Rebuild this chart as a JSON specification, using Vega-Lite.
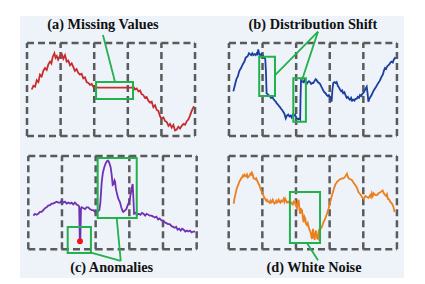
{
  "$schema": "https://vega.github.io/schema/vega-lite/v6.json",
  "background": "white",
  "padding": {"left": 20, "top": 16, "right": 21, "bottom": 6},
  "config": {
    "view": {"stroke": null, "fill": "#EEF3FA"},
    "concat": {"spacing": 0}
  },
  "datasets": {
    "frames": [
      {"t": 0, "t2": 20, "v": 100, "v2": 100}, {"t": 20, "t2": 40, "v": 100, "v2": 100},
      {"t": 40, "t2": 60, "v": 100, "v2": 100}, {"t": 60, "t2": 80, "v": 100, "v2": 100},
      {"t": 80, "t2": 100, "v": 100, "v2": 100},
      {"t": 0, "t2": 20, "v": 0, "v2": 0}, {"t": 20, "t2": 40, "v": 0, "v2": 0},
      {"t": 40, "t2": 60, "v": 0, "v2": 0}, {"t": 60, "t2": 80, "v": 0, "v2": 0},
      {"t": 80, "t2": 100, "v": 0, "v2": 0},
      {"t": 0, "t2": 0, "v": 0, "v2": 100}, {"t": 20, "t2": 20, "v": 0, "v2": 100},
      {"t": 40, "t2": 40, "v": 0, "v2": 100}, {"t": 60, "t2": 60, "v": 0, "v2": 100},
      {"t": 80, "t2": 80, "v": 0, "v2": 100}, {"t": 100, "t2": 100, "v": 0, "v2": 100}
    ],
    "boxes": [
      {"p": "a", "t": 41.1, "t2": 63.1, "v": 39.8, "v2": 58.1},
      {"p": "b", "t": 18.0, "t2": 27.4, "v": 43, "v2": 85.3},
      {"p": "b", "t": 38.3, "t2": 45.8, "v": 15.4, "v2": 62},
      {"p": "c", "t": 23.4, "t2": 37.2, "v": -3.9, "v2": 23.8},
      {"p": "c", "t": 41.2, "t2": 64.4, "v": 33.5, "v2": 97.9},
      {"p": "d", "t": 36.4, "t2": 54.3, "v": 6.8, "v2": 61.4}
    ],
    "links": [
      {"p": "a", "t": 45.2, "v": 108.6, "t2": 52.4, "v2": 58.1},
      {"p": "b", "t": 53, "v": 112.2, "t2": 27.6, "v2": 65.6},
      {"p": "b", "t": 53, "v": 112.2, "t2": 43.5, "v2": 60.2},
      {"p": "c", "t": 54.9, "v": -12.5, "t2": 37.2, "v2": -3.5},
      {"p": "c", "t": 54.9, "v": -12.5, "t2": 52.5, "v2": 33.5},
      {"p": "d", "t": 46.5, "v": 6.8, "t2": 53.1, "v2": -11.8}
    ],
    "labels": [
      {"p": "a", "label": "(a) Missing Values", "t": 45.2, "v": 114.7},
      {"p": "b", "label": "(b) Distribution Shift", "t": 50, "v": 114.7},
      {"p": "c", "label": "(c) Anomalies", "t": 49.5, "v": -24.7},
      {"p": "d", "label": "(d) White Noise", "t": 50.7, "v": -24.7}
    ],
    "outliers": [
      {"p": "c", "t": 30.7, "v": 8.6}
    ],
    "series": [
      {"p": "a", "t": 2.8, "v": 50}, {"p": "a", "t": 3.8, "v": 54}, {"p": "a", "t": 4.8, "v": 53},
      {"p": "a", "t": 5.8, "v": 60}, {"p": "a", "t": 6.8, "v": 58}, {"p": "a", "t": 7.7, "v": 66},
      {"p": "a", "t": 8.7, "v": 64}, {"p": "a", "t": 9.7, "v": 70}, {"p": "a", "t": 10.7, "v": 73},
      {"p": "a", "t": 11.7, "v": 71}, {"p": "a", "t": 12.7, "v": 77}, {"p": "a", "t": 13.7, "v": 80},
      {"p": "a", "t": 14.5, "v": 78}, {"p": "a", "t": 15.3, "v": 85}, {"p": "a", "t": 16.3, "v": 89},
      {"p": "a", "t": 17.0, "v": 84}, {"p": "a", "t": 17.7, "v": 86}, {"p": "a", "t": 18.5, "v": 82},
      {"p": "a", "t": 19.5, "v": 86}, {"p": "a", "t": 20.7, "v": 88}, {"p": "a", "t": 21.6, "v": 83},
      {"p": "a", "t": 22.6, "v": 87}, {"p": "a", "t": 23.6, "v": 80}, {"p": "a", "t": 24.6, "v": 81},
      {"p": "a", "t": 25.6, "v": 76}, {"p": "a", "t": 26.6, "v": 78}, {"p": "a", "t": 27.6, "v": 74},
      {"p": "a", "t": 28.5, "v": 70}, {"p": "a", "t": 29.5, "v": 72}, {"p": "a", "t": 30.5, "v": 68},
      {"p": "a", "t": 31.5, "v": 66}, {"p": "a", "t": 32.5, "v": 67}, {"p": "a", "t": 33.5, "v": 62},
      {"p": "a", "t": 34.5, "v": 63}, {"p": "a", "t": 35.5, "v": 58}, {"p": "a", "t": 36.5, "v": 57},
      {"p": "a", "t": 37.5, "v": 55}, {"p": "a", "t": 38.5, "v": 56}, {"p": "a", "t": 39.5, "v": 53},
      {"p": "a", "t": 40.5, "v": 54}, {"p": "a", "t": 41.5, "v": 52}, {"p": "a", "t": 62.3, "v": 52},
      {"p": "a", "t": 63.3, "v": 53}, {"p": "a", "t": 64.3, "v": 50}, {"p": "a", "t": 65.3, "v": 51},
      {"p": "a", "t": 66.3, "v": 48}, {"p": "a", "t": 67.3, "v": 49}, {"p": "a", "t": 68.2, "v": 45},
      {"p": "a", "t": 69.2, "v": 44}, {"p": "a", "t": 70.2, "v": 41}, {"p": "a", "t": 71.2, "v": 42},
      {"p": "a", "t": 72.2, "v": 38}, {"p": "a", "t": 73.2, "v": 36}, {"p": "a", "t": 74.2, "v": 37},
      {"p": "a", "t": 75.2, "v": 31}, {"p": "a", "t": 76.2, "v": 33}, {"p": "a", "t": 77.2, "v": 28},
      {"p": "a", "t": 78.2, "v": 27}, {"p": "a", "t": 79.2, "v": 21}, {"p": "a", "t": 80.2, "v": 19},
      {"p": "a", "t": 81.2, "v": 20}, {"p": "a", "t": 82.2, "v": 16}, {"p": "a", "t": 83.2, "v": 15},
      {"p": "a", "t": 84.2, "v": 11}, {"p": "a", "t": 85.1, "v": 13}, {"p": "a", "t": 86.1, "v": 9},
      {"p": "a", "t": 87.1, "v": 12}, {"p": "a", "t": 88.1, "v": 6}, {"p": "a", "t": 89.1, "v": 7},
      {"p": "a", "t": 90.1, "v": 10}, {"p": "a", "t": 91.1, "v": 8}, {"p": "a", "t": 92.1, "v": 11},
      {"p": "a", "t": 93.1, "v": 13}, {"p": "a", "t": 94.1, "v": 12}, {"p": "a", "t": 95.1, "v": 16},
      {"p": "a", "t": 96.1, "v": 18}, {"p": "a", "t": 97.0, "v": 22}, {"p": "a", "t": 98.0, "v": 27},
      {"p": "a", "t": 99.4, "v": 32},

      {"p": "b", "t": 2.6, "v": 48}, {"p": "b", "t": 3.3, "v": 53}, {"p": "b", "t": 4.0, "v": 58},
      {"p": "b", "t": 4.6, "v": 62}, {"p": "b", "t": 5.3, "v": 64}, {"p": "b", "t": 6.0, "v": 69},
      {"p": "b", "t": 6.5, "v": 71}, {"p": "b", "t": 7.2, "v": 73}, {"p": "b", "t": 7.9, "v": 76},
      {"p": "b", "t": 8.5, "v": 78}, {"p": "b", "t": 9.2, "v": 80}, {"p": "b", "t": 9.9, "v": 84},
      {"p": "b", "t": 10.5, "v": 85}, {"p": "b", "t": 11.2, "v": 86}, {"p": "b", "t": 11.9, "v": 89},
      {"p": "b", "t": 12.5, "v": 88}, {"p": "b", "t": 13.2, "v": 87}, {"p": "b", "t": 13.9, "v": 89},
      {"p": "b", "t": 14.5, "v": 87}, {"p": "b", "t": 15.2, "v": 88}, {"p": "b", "t": 15.9, "v": 87},
      {"p": "b", "t": 16.5, "v": 89}, {"p": "b", "t": 17.0, "v": 88}, {"p": "b", "t": 17.4, "v": 93},
      {"p": "b", "t": 17.9, "v": 89}, {"p": "b", "t": 18.5, "v": 87}, {"p": "b", "t": 19.2, "v": 88},
      {"p": "b", "t": 19.8, "v": 85}, {"p": "b", "t": 20.4, "v": 86}, {"p": "b", "t": 21.0, "v": 84},
      {"p": "b", "t": 21.6, "v": 83}, {"p": "b", "t": 22.0, "v": 70}, {"p": "b", "t": 22.4, "v": 46},
      {"p": "b", "t": 23.0, "v": 45}, {"p": "b", "t": 23.4, "v": 44}, {"p": "b", "t": 24.2, "v": 43},
      {"p": "b", "t": 25.0, "v": 41}, {"p": "b", "t": 25.7, "v": 42}, {"p": "b", "t": 26.4, "v": 40},
      {"p": "b", "t": 27.2, "v": 38}, {"p": "b", "t": 27.9, "v": 37}, {"p": "b", "t": 28.4, "v": 35},
      {"p": "b", "t": 29.1, "v": 34}, {"p": "b", "t": 29.8, "v": 32}, {"p": "b", "t": 30.4, "v": 31},
      {"p": "b", "t": 31.1, "v": 29}, {"p": "b", "t": 31.7, "v": 28}, {"p": "b", "t": 32.3, "v": 26},
      {"p": "b", "t": 33.0, "v": 24}, {"p": "b", "t": 33.8, "v": 19}, {"p": "b", "t": 34.5, "v": 22},
      {"p": "b", "t": 35.3, "v": 23}, {"p": "b", "t": 36.0, "v": 21}, {"p": "b", "t": 36.7, "v": 22},
      {"p": "b", "t": 37.3, "v": 20}, {"p": "b", "t": 38.0, "v": 23}, {"p": "b", "t": 38.7, "v": 22},
      {"p": "b", "t": 39.3, "v": 23}, {"p": "b", "t": 40.0, "v": 20}, {"p": "b", "t": 40.6, "v": 19},
      {"p": "b", "t": 41.3, "v": 18}, {"p": "b", "t": 42.0, "v": 19}, {"p": "b", "t": 42.4, "v": 18},
      {"p": "b", "t": 42.6, "v": 40}, {"p": "b", "t": 42.9, "v": 60}, {"p": "b", "t": 43.5, "v": 59},
      {"p": "b", "t": 44.2, "v": 58}, {"p": "b", "t": 44.9, "v": 60}, {"p": "b", "t": 45.6, "v": 57},
      {"p": "b", "t": 46.3, "v": 56}, {"p": "b", "t": 47.0, "v": 58}, {"p": "b", "t": 47.6, "v": 59},
      {"p": "b", "t": 48.2, "v": 58}, {"p": "b", "t": 48.9, "v": 56}, {"p": "b", "t": 49.6, "v": 57},
      {"p": "b", "t": 50.2, "v": 57}, {"p": "b", "t": 50.9, "v": 59}, {"p": "b", "t": 51.6, "v": 61},
      {"p": "b", "t": 52.2, "v": 60}, {"p": "b", "t": 52.9, "v": 58}, {"p": "b", "t": 53.6, "v": 57},
      {"p": "b", "t": 54.2, "v": 56}, {"p": "b", "t": 55.0, "v": 53}, {"p": "b", "t": 55.6, "v": 51},
      {"p": "b", "t": 56.1, "v": 49}, {"p": "b", "t": 56.8, "v": 47}, {"p": "b", "t": 57.5, "v": 46},
      {"p": "b", "t": 58.2, "v": 44}, {"p": "b", "t": 58.9, "v": 43}, {"p": "b", "t": 59.5, "v": 44},
      {"p": "b", "t": 60.1, "v": 42}, {"p": "b", "t": 60.7, "v": 40}, {"p": "b", "t": 61.1, "v": 37},
      {"p": "b", "t": 61.6, "v": 50}, {"p": "b", "t": 62.1, "v": 57}, {"p": "b", "t": 62.8, "v": 58},
      {"p": "b", "t": 63.5, "v": 57}, {"p": "b", "t": 64.1, "v": 58}, {"p": "b", "t": 64.8, "v": 54},
      {"p": "b", "t": 65.5, "v": 52}, {"p": "b", "t": 66.1, "v": 50}, {"p": "b", "t": 66.8, "v": 48},
      {"p": "b", "t": 67.4, "v": 49}, {"p": "b", "t": 68.0, "v": 46}, {"p": "b", "t": 68.7, "v": 47},
      {"p": "b", "t": 69.4, "v": 44}, {"p": "b", "t": 70.1, "v": 41}, {"p": "b", "t": 70.8, "v": 42},
      {"p": "b", "t": 71.4, "v": 40}, {"p": "b", "t": 72.0, "v": 39}, {"p": "b", "t": 72.7, "v": 41},
      {"p": "b", "t": 73.3, "v": 38}, {"p": "b", "t": 74.0, "v": 39}, {"p": "b", "t": 74.7, "v": 38},
      {"p": "b", "t": 75.3, "v": 40}, {"p": "b", "t": 76.0, "v": 40}, {"p": "b", "t": 76.7, "v": 42},
      {"p": "b", "t": 77.4, "v": 41}, {"p": "b", "t": 78.0, "v": 44}, {"p": "b", "t": 78.7, "v": 43},
      {"p": "b", "t": 79.3, "v": 45}, {"p": "b", "t": 79.9, "v": 46}, {"p": "b", "t": 80.6, "v": 48},
      {"p": "b", "t": 81.3, "v": 51}, {"p": "b", "t": 82.0, "v": 53}, {"p": "b", "t": 82.5, "v": 46},
      {"p": "b", "t": 83.0, "v": 37}, {"p": "b", "t": 83.6, "v": 40}, {"p": "b", "t": 84.2, "v": 42},
      {"p": "b", "t": 84.9, "v": 44}, {"p": "b", "t": 85.6, "v": 47}, {"p": "b", "t": 86.2, "v": 49},
      {"p": "b", "t": 86.9, "v": 51}, {"p": "b", "t": 87.6, "v": 53}, {"p": "b", "t": 88.2, "v": 55},
      {"p": "b", "t": 88.9, "v": 57}, {"p": "b", "t": 89.6, "v": 59}, {"p": "b", "t": 90.2, "v": 61},
      {"p": "b", "t": 90.9, "v": 64}, {"p": "b", "t": 91.6, "v": 66}, {"p": "b", "t": 92.2, "v": 70},
      {"p": "b", "t": 92.9, "v": 73}, {"p": "b", "t": 93.5, "v": 72}, {"p": "b", "t": 94.2, "v": 75},
      {"p": "b", "t": 94.8, "v": 76}, {"p": "b", "t": 95.5, "v": 77}, {"p": "b", "t": 96.1, "v": 79},
      {"p": "b", "t": 96.8, "v": 80}, {"p": "b", "t": 97.5, "v": 79}, {"p": "b", "t": 98.1, "v": 82},
      {"p": "b", "t": 98.8, "v": 84}, {"p": "b", "t": 99.3, "v": 83},

      {"p": "c", "t": 3.0, "v": 36}, {"p": "c", "t": 4.0, "v": 38}, {"p": "c", "t": 5.0, "v": 37},
      {"p": "c", "t": 5.9, "v": 38}, {"p": "c", "t": 6.9, "v": 40}, {"p": "c", "t": 7.9, "v": 40},
      {"p": "c", "t": 8.9, "v": 42}, {"p": "c", "t": 9.9, "v": 44}, {"p": "c", "t": 10.9, "v": 45},
      {"p": "c", "t": 11.9, "v": 47}, {"p": "c", "t": 12.8, "v": 47}, {"p": "c", "t": 13.8, "v": 49},
      {"p": "c", "t": 14.8, "v": 49}, {"p": "c", "t": 15.8, "v": 50}, {"p": "c", "t": 16.9, "v": 51},
      {"p": "c", "t": 17.8, "v": 50}, {"p": "c", "t": 18.8, "v": 50}, {"p": "c", "t": 19.8, "v": 52},
      {"p": "c", "t": 20.8, "v": 50}, {"p": "c", "t": 21.8, "v": 51}, {"p": "c", "t": 22.8, "v": 49},
      {"p": "c", "t": 23.8, "v": 50}, {"p": "c", "t": 24.8, "v": 49}, {"p": "c", "t": 25.7, "v": 50},
      {"p": "c", "t": 26.7, "v": 48}, {"p": "c", "t": 27.7, "v": 50}, {"p": "c", "t": 28.7, "v": 48},
      {"p": "c", "t": 29.7, "v": 47}, {"p": "c", "t": 30.2, "v": 46}, {"p": "c", "t": 30.6, "v": 9},
      {"p": "c", "t": 30.9, "v": 9.6}, {"p": "c", "t": 31.3, "v": 44}, {"p": "c", "t": 31.7, "v": 45},
      {"p": "c", "t": 32.7, "v": 44}, {"p": "c", "t": 33.7, "v": 43}, {"p": "c", "t": 34.6, "v": 45},
      {"p": "c", "t": 35.6, "v": 45}, {"p": "c", "t": 36.6, "v": 43}, {"p": "c", "t": 37.6, "v": 42},
      {"p": "c", "t": 38.6, "v": 42}, {"p": "c", "t": 39.6, "v": 40}, {"p": "c", "t": 40.6, "v": 40},
      {"p": "c", "t": 41.5, "v": 41}, {"p": "c", "t": 42.2, "v": 42}, {"p": "c", "t": 42.8, "v": 50},
      {"p": "c", "t": 43.6, "v": 72}, {"p": "c", "t": 44.3, "v": 82}, {"p": "c", "t": 45.0, "v": 87},
      {"p": "c", "t": 45.5, "v": 90}, {"p": "c", "t": 46.2, "v": 93}, {"p": "c", "t": 47.0, "v": 95},
      {"p": "c", "t": 47.5, "v": 95}, {"p": "c", "t": 48.2, "v": 92}, {"p": "c", "t": 48.9, "v": 88},
      {"p": "c", "t": 49.5, "v": 80}, {"p": "c", "t": 50.1, "v": 69}, {"p": "c", "t": 50.7, "v": 70},
      {"p": "c", "t": 51.2, "v": 74}, {"p": "c", "t": 51.5, "v": 73}, {"p": "c", "t": 52.0, "v": 65},
      {"p": "c", "t": 52.5, "v": 61}, {"p": "c", "t": 53.3, "v": 55}, {"p": "c", "t": 54.0, "v": 52},
      {"p": "c", "t": 54.5, "v": 50}, {"p": "c", "t": 55.2, "v": 45}, {"p": "c", "t": 56.0, "v": 41},
      {"p": "c", "t": 56.4, "v": 40}, {"p": "c", "t": 57.0, "v": 41}, {"p": "c", "t": 57.6, "v": 42},
      {"p": "c", "t": 58.2, "v": 43}, {"p": "c", "t": 58.8, "v": 46}, {"p": "c", "t": 59.4, "v": 49},
      {"p": "c", "t": 60.0, "v": 51}, {"p": "c", "t": 60.6, "v": 57}, {"p": "c", "t": 61.2, "v": 63},
      {"p": "c", "t": 61.7, "v": 68}, {"p": "c", "t": 62.0, "v": 70}, {"p": "c", "t": 62.4, "v": 55},
      {"p": "c", "t": 62.8, "v": 38}, {"p": "c", "t": 63.8, "v": 39}, {"p": "c", "t": 64.7, "v": 37},
      {"p": "c", "t": 65.6, "v": 38}, {"p": "c", "t": 66.6, "v": 37}, {"p": "c", "t": 67.5, "v": 39},
      {"p": "c", "t": 68.4, "v": 38}, {"p": "c", "t": 69.4, "v": 36}, {"p": "c", "t": 70.3, "v": 38},
      {"p": "c", "t": 71.3, "v": 37}, {"p": "c", "t": 72.2, "v": 36}, {"p": "c", "t": 73.2, "v": 36},
      {"p": "c", "t": 74.2, "v": 35}, {"p": "c", "t": 75.1, "v": 34}, {"p": "c", "t": 76.1, "v": 35},
      {"p": "c", "t": 77.1, "v": 32}, {"p": "c", "t": 78.0, "v": 33}, {"p": "c", "t": 79.0, "v": 31},
      {"p": "c", "t": 80.0, "v": 31}, {"p": "c", "t": 81.0, "v": 29}, {"p": "c", "t": 82.0, "v": 28},
      {"p": "c", "t": 83.0, "v": 27}, {"p": "c", "t": 84.0, "v": 27}, {"p": "c", "t": 85.0, "v": 25},
      {"p": "c", "t": 86.0, "v": 24}, {"p": "c", "t": 87.0, "v": 23}, {"p": "c", "t": 87.8, "v": 24},
      {"p": "c", "t": 88.7, "v": 21}, {"p": "c", "t": 89.6, "v": 22}, {"p": "c", "t": 90.5, "v": 20},
      {"p": "c", "t": 91.4, "v": 22}, {"p": "c", "t": 92.3, "v": 21}, {"p": "c", "t": 93.2, "v": 19},
      {"p": "c", "t": 94.2, "v": 20}, {"p": "c", "t": 95.1, "v": 19}, {"p": "c", "t": 96.0, "v": 20},
      {"p": "c", "t": 97.0, "v": 18}, {"p": "c", "t": 98.0, "v": 19}, {"p": "c", "t": 99.0, "v": 19},

      {"p": "d", "t": 3.0, "v": 49}, {"p": "d", "t": 3.4, "v": 54}, {"p": "d", "t": 3.9, "v": 58},
      {"p": "d", "t": 4.4, "v": 62}, {"p": "d", "t": 4.9, "v": 66}, {"p": "d", "t": 5.4, "v": 68},
      {"p": "d", "t": 5.9, "v": 70}, {"p": "d", "t": 6.4, "v": 73}, {"p": "d", "t": 6.9, "v": 74},
      {"p": "d", "t": 7.4, "v": 76}, {"p": "d", "t": 7.9, "v": 77}, {"p": "d", "t": 8.4, "v": 79},
      {"p": "d", "t": 8.9, "v": 78}, {"p": "d", "t": 9.4, "v": 80}, {"p": "d", "t": 9.9, "v": 79},
      {"p": "d", "t": 10.4, "v": 78}, {"p": "d", "t": 10.9, "v": 80}, {"p": "d", "t": 11.4, "v": 77},
      {"p": "d", "t": 11.9, "v": 78}, {"p": "d", "t": 12.4, "v": 79}, {"p": "d", "t": 12.9, "v": 81},
      {"p": "d", "t": 13.4, "v": 80}, {"p": "d", "t": 13.8, "v": 82}, {"p": "d", "t": 14.3, "v": 80},
      {"p": "d", "t": 14.8, "v": 76}, {"p": "d", "t": 15.4, "v": 76}, {"p": "d", "t": 15.9, "v": 75},
      {"p": "d", "t": 16.4, "v": 76}, {"p": "d", "t": 16.8, "v": 74}, {"p": "d", "t": 17.3, "v": 72},
      {"p": "d", "t": 17.8, "v": 70}, {"p": "d", "t": 18.2, "v": 69}, {"p": "d", "t": 18.7, "v": 66},
      {"p": "d", "t": 19.3, "v": 63}, {"p": "d", "t": 19.8, "v": 61}, {"p": "d", "t": 20.3, "v": 59},
      {"p": "d", "t": 20.8, "v": 57}, {"p": "d", "t": 21.2, "v": 55}, {"p": "d", "t": 21.7, "v": 54},
      {"p": "d", "t": 22.3, "v": 52}, {"p": "d", "t": 22.8, "v": 53}, {"p": "d", "t": 23.3, "v": 51},
      {"p": "d", "t": 23.8, "v": 51}, {"p": "d", "t": 24.3, "v": 50}, {"p": "d", "t": 24.8, "v": 52},
      {"p": "d", "t": 25.2, "v": 50}, {"p": "d", "t": 25.7, "v": 51}, {"p": "d", "t": 26.2, "v": 53},
      {"p": "d", "t": 26.7, "v": 50}, {"p": "d", "t": 27.2, "v": 49}, {"p": "d", "t": 27.7, "v": 50},
      {"p": "d", "t": 28.2, "v": 52}, {"p": "d", "t": 28.7, "v": 50}, {"p": "d", "t": 29.2, "v": 51},
      {"p": "d", "t": 29.7, "v": 53}, {"p": "d", "t": 30.2, "v": 51}, {"p": "d", "t": 30.7, "v": 50},
      {"p": "d", "t": 31.2, "v": 52}, {"p": "d", "t": 31.7, "v": 51}, {"p": "d", "t": 32.2, "v": 52},
      {"p": "d", "t": 32.7, "v": 54}, {"p": "d", "t": 33.1, "v": 51}, {"p": "d", "t": 33.6, "v": 54},
      {"p": "d", "t": 34.1, "v": 52}, {"p": "d", "t": 34.6, "v": 50}, {"p": "d", "t": 35.2, "v": 51},
      {"p": "d", "t": 35.7, "v": 51}, {"p": "d", "t": 36.2, "v": 49}, {"p": "d", "t": 36.7, "v": 51},
      {"p": "d", "t": 37.1, "v": 50}, {"p": "d", "t": 37.6, "v": 49}, {"p": "d", "t": 38.1, "v": 48},
      {"p": "d", "t": 38.6, "v": 51}, {"p": "d", "t": 39.1, "v": 50}, {"p": "d", "t": 39.6, "v": 51},
      {"p": "d", "t": 40.1, "v": 46}, {"p": "d", "t": 40.6, "v": 44}, {"p": "d", "t": 41.1, "v": 51},
      {"p": "d", "t": 41.6, "v": 53}, {"p": "d", "t": 42.0, "v": 44}, {"p": "d", "t": 42.5, "v": 38},
      {"p": "d", "t": 43.0, "v": 43}, {"p": "d", "t": 43.6, "v": 42}, {"p": "d", "t": 44.1, "v": 33},
      {"p": "d", "t": 44.6, "v": 29}, {"p": "d", "t": 45.0, "v": 35}, {"p": "d", "t": 45.5, "v": 33},
      {"p": "d", "t": 46.0, "v": 27}, {"p": "d", "t": 46.5, "v": 26}, {"p": "d", "t": 47.0, "v": 28},
      {"p": "d", "t": 47.5, "v": 24}, {"p": "d", "t": 48.0, "v": 21}, {"p": "d", "t": 48.5, "v": 19},
      {"p": "d", "t": 49.0, "v": 15}, {"p": "d", "t": 49.5, "v": 11}, {"p": "d", "t": 49.8, "v": 17},
      {"p": "d", "t": 50.1, "v": 22}, {"p": "d", "t": 50.5, "v": 14}, {"p": "d", "t": 51.1, "v": 10},
      {"p": "d", "t": 51.5, "v": 18}, {"p": "d", "t": 51.9, "v": 20}, {"p": "d", "t": 52.5, "v": 12},
      {"p": "d", "t": 53.1, "v": 11}, {"p": "d", "t": 53.5, "v": 19}, {"p": "d", "t": 53.8, "v": 21},
      {"p": "d", "t": 54.6, "v": 22}, {"p": "d", "t": 55.4, "v": 24}, {"p": "d", "t": 56.4, "v": 29},
      {"p": "d", "t": 57.4, "v": 33}, {"p": "d", "t": 58.4, "v": 38}, {"p": "d", "t": 59.4, "v": 44},
      {"p": "d", "t": 60.4, "v": 51}, {"p": "d", "t": 61.4, "v": 58}, {"p": "d", "t": 62.4, "v": 64},
      {"p": "d", "t": 63.3, "v": 69}, {"p": "d", "t": 64.3, "v": 72}, {"p": "d", "t": 65.4, "v": 74},
      {"p": "d", "t": 66.3, "v": 75}, {"p": "d", "t": 67.3, "v": 76}, {"p": "d", "t": 68.3, "v": 76},
      {"p": "d", "t": 69.3, "v": 78}, {"p": "d", "t": 70.3, "v": 81}, {"p": "d", "t": 70.8, "v": 78},
      {"p": "d", "t": 71.3, "v": 76}, {"p": "d", "t": 72.3, "v": 75}, {"p": "d", "t": 73.3, "v": 74},
      {"p": "d", "t": 74.3, "v": 71}, {"p": "d", "t": 75.2, "v": 69}, {"p": "d", "t": 76.2, "v": 66},
      {"p": "d", "t": 77.2, "v": 61}, {"p": "d", "t": 78.2, "v": 59}, {"p": "d", "t": 79.2, "v": 56},
      {"p": "d", "t": 80.2, "v": 54}, {"p": "d", "t": 81.2, "v": 57}, {"p": "d", "t": 82.2, "v": 56},
      {"p": "d", "t": 83.1, "v": 55}, {"p": "d", "t": 84.1, "v": 58}, {"p": "d", "t": 84.6, "v": 56},
      {"p": "d", "t": 85.1, "v": 60}, {"p": "d", "t": 85.6, "v": 57}, {"p": "d", "t": 86.2, "v": 60},
      {"p": "d", "t": 87.1, "v": 58}, {"p": "d", "t": 88.1, "v": 58}, {"p": "d", "t": 89.1, "v": 60},
      {"p": "d", "t": 90.1, "v": 61}, {"p": "d", "t": 90.8, "v": 62}, {"p": "d", "t": 91.5, "v": 63},
      {"p": "d", "t": 92.2, "v": 60}, {"p": "d", "t": 93.0, "v": 58}, {"p": "d", "t": 93.6, "v": 57},
      {"p": "d", "t": 94.1, "v": 59}, {"p": "d", "t": 94.6, "v": 54}, {"p": "d", "t": 95.1, "v": 54},
      {"p": "d", "t": 96.0, "v": 51}, {"p": "d", "t": 97.0, "v": 49}, {"p": "d", "t": 97.8, "v": 46},
      {"p": "d", "t": 98.6, "v": 40}
    ]
  },
  "vconcat": [
    {
      "hconcat": [
        {
          "width": 192, "height": 131,
          "encoding": {
            "x": {"field": "t", "type": "quantitative", "axis": null, "scale": {"domain": [-4.17, 110.1], "nice": false, "zero": false}},
            "y": {"field": "v", "type": "quantitative", "axis": null, "scale": {"domain": [-11.8, 129], "nice": false, "zero": false}}
          },
          "layer": [
            {"data": {"name": "frames"}, "mark": {"type": "rule", "color": "#5a5a5a", "strokeWidth": 2.5, "strokeDash": [7, 4]}, "encoding": {"x2": {"field": "t2"}, "y2": {"field": "v2"}}},
            {"data": {"name": "series"}, "transform": [{"filter": "datum.p === 'a'"}], "mark": {"type": "line", "color": "#C62D2D", "strokeWidth": 1.8}},
            {"data": {"name": "boxes"}, "transform": [{"filter": "datum.p === 'a'"}], "mark": {"type": "rect", "fill": null, "stroke": "#22B14C", "strokeWidth": 2}, "encoding": {"x2": {"field": "t2"}, "y2": {"field": "v2"}}},
            {"data": {"name": "links"}, "transform": [{"filter": "datum.p === 'a'"}], "mark": {"type": "rule", "color": "#22B14C", "strokeWidth": 1.8}, "encoding": {"x2": {"field": "t2"}, "y2": {"field": "v2"}}},
            {"data": {"name": "labels"}, "transform": [{"filter": "datum.p === 'a'"}], "mark": {"type": "text", "font": "Liberation Serif", "fontWeight": "bold", "fontSize": 14.3, "color": "#111111", "baseline": "alphabetic", "align": "center"}, "encoding": {"text": {"field": "label"}}}
          ]
        },
        {
          "width": 192, "height": 131,
          "encoding": {
            "x": {"field": "t", "type": "quantitative", "axis": null, "scale": {"domain": [-10.1, 104.2], "nice": false, "zero": false}},
            "y": {"field": "v", "type": "quantitative", "axis": null, "scale": {"domain": [-11.8, 129], "nice": false, "zero": false}}
          },
          "layer": [
            {"data": {"name": "frames"}, "mark": {"type": "rule", "color": "#5a5a5a", "strokeWidth": 2.5, "strokeDash": [7, 4]}, "encoding": {"x2": {"field": "t2"}, "y2": {"field": "v2"}}},
            {"data": {"name": "series"}, "transform": [{"filter": "datum.p === 'b'"}], "mark": {"type": "line", "color": "#1B3F9E", "strokeWidth": 1.8}},
            {"data": {"name": "boxes"}, "transform": [{"filter": "datum.p === 'b'"}], "mark": {"type": "rect", "fill": null, "stroke": "#22B14C", "strokeWidth": 2}, "encoding": {"x2": {"field": "t2"}, "y2": {"field": "v2"}}},
            {"data": {"name": "links"}, "transform": [{"filter": "datum.p === 'b'"}], "mark": {"type": "rule", "color": "#22B14C", "strokeWidth": 1.8}, "encoding": {"x2": {"field": "t2"}, "y2": {"field": "v2"}}},
            {"data": {"name": "labels"}, "transform": [{"filter": "datum.p === 'b'"}], "mark": {"type": "text", "font": "Liberation Serif", "fontWeight": "bold", "fontSize": 14.3, "color": "#111111", "baseline": "alphabetic", "align": "center"}, "encoding": {"text": {"field": "label"}}}
          ]
        }
      ]
    },
    {
      "hconcat": [
        {
          "width": 192, "height": 131,
          "encoding": {
            "x": {"field": "t", "type": "quantitative", "axis": null, "scale": {"domain": [-4.93, 109.1], "nice": false, "zero": false}},
            "y": {"field": "v", "type": "quantitative", "axis": null, "scale": {"domain": [-30.8, 109.6], "nice": false, "zero": false}}
          },
          "layer": [
            {"data": {"name": "frames"}, "mark": {"type": "rule", "color": "#5a5a5a", "strokeWidth": 2.5, "strokeDash": [7, 4]}, "encoding": {"x2": {"field": "t2"}, "y2": {"field": "v2"}}},
            {"data": {"name": "series"}, "transform": [{"filter": "datum.p === 'c'"}], "mark": {"type": "line", "color": "#7131B5", "strokeWidth": 1.8}},
            {"data": {"name": "outliers"}, "mark": {"type": "circle", "color": "#F01414", "size": 34, "opacity": 1}},
            {"data": {"name": "boxes"}, "transform": [{"filter": "datum.p === 'c'"}], "mark": {"type": "rect", "fill": null, "stroke": "#22B14C", "strokeWidth": 2}, "encoding": {"x2": {"field": "t2"}, "y2": {"field": "v2"}}},
            {"data": {"name": "links"}, "transform": [{"filter": "datum.p === 'c'"}], "mark": {"type": "rule", "color": "#22B14C", "strokeWidth": 1.8}, "encoding": {"x2": {"field": "t2"}, "y2": {"field": "v2"}}},
            {"data": {"name": "labels"}, "transform": [{"filter": "datum.p === 'c'"}], "mark": {"type": "text", "font": "Liberation Serif", "fontWeight": "bold", "fontSize": 14.3, "color": "#111111", "baseline": "alphabetic", "align": "center"}, "encoding": {"text": {"field": "label"}}}
          ]
        },
        {
          "width": 192, "height": 131,
          "encoding": {
            "x": {"field": "t", "type": "quantitative", "axis": null, "scale": {"domain": [-9.92, 104.2], "nice": false, "zero": false}},
            "y": {"field": "v", "type": "quantitative", "axis": null, "scale": {"domain": [-30.8, 109.6], "nice": false, "zero": false}}
          },
          "layer": [
            {"data": {"name": "frames"}, "mark": {"type": "rule", "color": "#5a5a5a", "strokeWidth": 2.5, "strokeDash": [7, 4]}, "encoding": {"x2": {"field": "t2"}, "y2": {"field": "v2"}}},
            {"data": {"name": "series"}, "transform": [{"filter": "datum.p === 'd'"}], "mark": {"type": "line", "color": "#EC7F1E", "strokeWidth": 1.8}},
            {"data": {"name": "boxes"}, "transform": [{"filter": "datum.p === 'd'"}], "mark": {"type": "rect", "fill": null, "stroke": "#22B14C", "strokeWidth": 2}, "encoding": {"x2": {"field": "t2"}, "y2": {"field": "v2"}}},
            {"data": {"name": "links"}, "transform": [{"filter": "datum.p === 'd'"}], "mark": {"type": "rule", "color": "#22B14C", "strokeWidth": 1.8}, "encoding": {"x2": {"field": "t2"}, "y2": {"field": "v2"}}},
            {"data": {"name": "labels"}, "transform": [{"filter": "datum.p === 'd'"}], "mark": {"type": "text", "font": "Liberation Serif", "fontWeight": "bold", "fontSize": 14.3, "color": "#111111", "baseline": "alphabetic", "align": "center"}, "encoding": {"text": {"field": "label"}}}
          ]
        }
      ]
    }
  ]
}
